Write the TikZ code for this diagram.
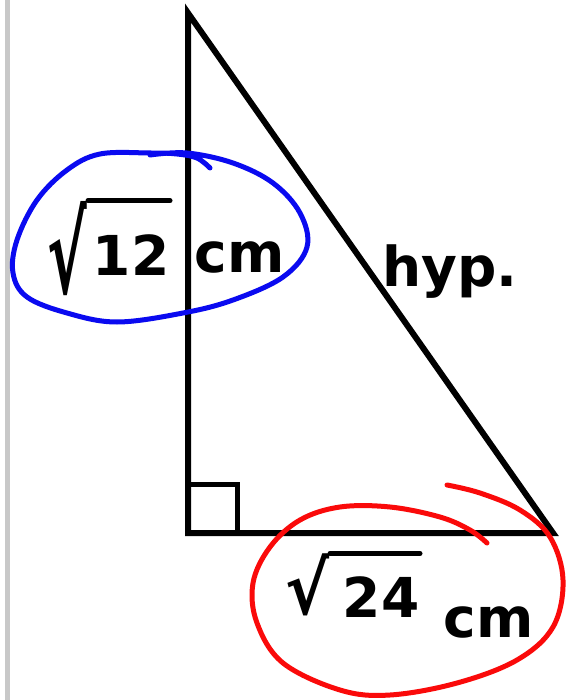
\documentclass[tikz,border=0pt]{standalone}
\usepackage{fontspec}
\setmainfont{DejaVu Sans}
\definecolor{barGray}{RGB}{200,200,200}
\definecolor{blueInk}{RGB}{10,10,240}
\definecolor{redInk}{RGB}{250,10,10}
\tikzset{
  hand/.style={font=\fontsize{22}{26}\selectfont\bfseries, scale=2.5, inner sep=0pt, text=black},
  radsign/.style={font=\fontsize{22}{26}\selectfont\bfseries, inner sep=0pt, text=black},
  edge/.style={line width=6pt, line join=miter, draw=black},
  ring/.style={line width=5pt, line cap=round, line join=round},
  vinc/.style={line width=5pt, line cap=round},
}
\begin{document}
\begin{tikzpicture}[x=1pt,y=-1pt]
\useasboundingbox (0,0) rectangle (566,700);
\fill[white] (0,0) rectangle (566,700);
\fill[barGray] (5,0) rectangle (10,700);
% triangle
\coordinate (A) at (188,13);
\coordinate (B) at (188,533);
\coordinate (C) at (553,533);
\coordinate (Sq1) at (188,484);
\coordinate (Sq2) at (237,484);
\coordinate (Sq3) at (237,533);
\draw[edge] (A) -- (B) -- (C) -- cycle;
\draw[line width=5pt, line join=miter] (Sq1) -- (Sq2) -- (Sq3);
% labels
\node[radsign, xscale=2.7, yscale=5.0, anchor=south east] (s12) at (88,297) {√};
\node[hand, anchor=base east] (n12) at (170,275) {12};
\node[hand, anchor=base west] (cm1) at (194,272) {cm};
\node[hand] (hyp) at (450,272) {hyp.};
\node[radsign, xscale=3.0, yscale=3.3, anchor=south east] (s24) at (330,617) {√};
\node[hand, anchor=base east] (n24) at (420,617) {24};
\node[hand, anchor=base west] (cm2) at (443,637) {cm};
\draw[vinc] (s12.north east) -- (s12.north east -| n12.east);
\draw[vinc] (s24.north east) -- (s24.north east -| n24.east);
% blue ring
\draw[ring, blueInk] plot[smooth, tension=0.6] coordinates {(210,168) (197,158) (177,154) (150,153) (100,154) (67,170) (37,200) (17,240) (13,273) (27,297) (67,313) (117,322) (183,313) (233,300) (283,277) (307,247) (300,213) (273,183) (233,163) (187,153) (150,155)};
% red ring
\draw[ring, redInk] plot[smooth, tension=0.6] coordinates {(487,543) (470,530) (440,517) (390,507) (340,507) (300,520) (270,547) (253,583) (257,623) (283,663) (340,690) (390,695) (457,683) (517,660) (553,627) (563,580) (550,537) (520,510) (480,493) (447,485)};
\end{tikzpicture}
\end{document}
